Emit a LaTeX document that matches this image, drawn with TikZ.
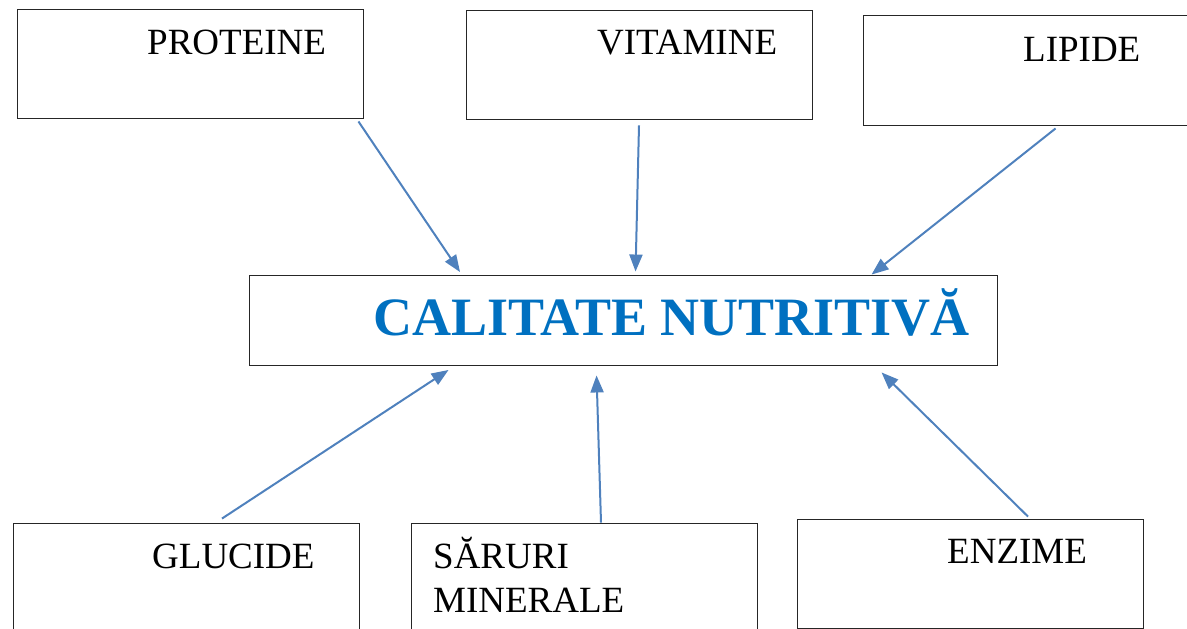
\documentclass[tikz,border=0pt]{standalone}
\usepackage{fontspec}
\setmainfont{Liberation Serif}
\usetikzlibrary{arrows.meta,calc}
\definecolor{pijlblauw}{HTML}{4F81BD}
\definecolor{titelblauw}{HTML}{0070C0}

\begin{document}
\begin{tikzpicture}[x=1pt, y=-1pt,
    vak/.style={draw=black!85, line width=0.9pt, rectangle, inner sep=0pt,
                minimum width=346pt, minimum height=109pt},
    tekst/.style={anchor=base west, inner sep=0pt, font=\fontsize{37}{44}\selectfont},
    pijl/.style={-{Triangle[length=17pt, width=13pt]}, line width=2pt, pijlblauw}]
    \useasboundingbox (0,0) rectangle (1187,629);

    % Vakken boven
    \node[vak] (prot) at (190,64) {};
    \node[vak] (vit) at (639.5,64.5) {};
    \node[vak, minimum height=110pt] (lip) at (1036,70) {};

    % Middenvak
    \node[vak, minimum width=748pt, minimum height=90pt] (cal) at (623,320) {};

    % Vakken onder
    \node[vak] (gluc) at (186,577.5) {};
    \node[vak] (sar) at (584,577.5) {};
    \node[vak] (enz) at (970,573.5) {};

    % Teksten
    \node[tekst] (protT) at (147,54) {PROTEINE};
    \node[tekst] (vitT) at (597,54) {VITAMINE};
    \node[tekst] (lipT) at (1023,61) {LIPIDE};
    \node[tekst, font=\fontsize{54}{62}\selectfont\bfseries, text=titelblauw] (calT) at (373,335) {CALITATE NUTRITIVĂ};
    \node[tekst] (glucT) at (152,568) {GLUCIDE};
    \node[tekst] (sarT) at (433,568) {SĂRURI};
    \node[tekst] (minT) at (433,612) {MINERALE};
    \node[tekst] (enzT) at (947,563) {ENZIME};

    % Pijlen naar het midden
    \draw[pijl] ($(prot.south east)+(-5,2.5)$) -- ($(cal.north west)+(211.5,-2.5)$);
    \draw[pijl] ($(vit.south)+(-0.5,6)$) -- ($(cal.north west)+(387,-3)$);
    \draw[pijl] ($(lip.south west)+(193,3)$) -- ($(cal.north west)+(623,0)$);
    \draw[pijl] ($(gluc.north)+(36,-4)$) -- ($(cal.south west)+(200,4.5)$);
    \draw[pijl] ($(sar.north)+(17,0)$) -- ($(cal.south west)+(348,10)$);
    \draw[pijl] ($(enz.north)+(58,-2)$) -- ($(cal.south west)+(633,7)$);
\end{tikzpicture}
\end{document}
